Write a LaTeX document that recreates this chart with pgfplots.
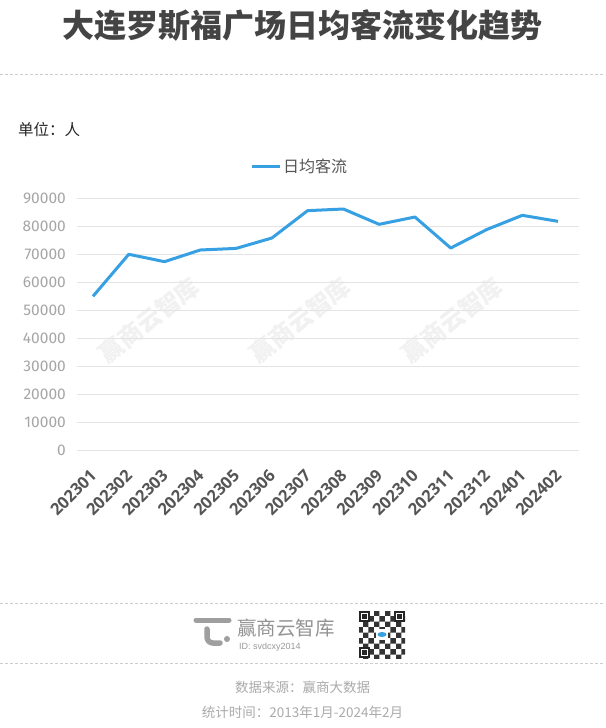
\documentclass[border=0pt]{standalone}
\usepackage{fontspec}
\setmainfont{Open Sans}
\newfontfamily\cjk{Noto Sans CJK SC}
\newfontfamily\numfont{Fira Sans}
\newfontfamily\idfont{Liberation Sans}
\usepackage{pgfplots}
\pgfplotsset{compat=1.18}
\usetikzlibrary{patterns}
\definecolor{linecol}{RGB}{54,160,226}
\definecolor{gridcol}{RGB}{228,228,228}
\definecolor{ytickcol}{RGB}{166,166,166}
\definecolor{xtickcol}{RGB}{85,85,85}
\definecolor{titlecol}{RGB}{68,68,68}
\definecolor{dashcol}{RGB}{204,204,204}
\definecolor{footcol}{RGB}{170,170,170}
\definecolor{wmcol}{RGB}{241,241,241}
\begin{document}
\begin{tikzpicture}[x=1pt,y=1pt]
\path[use as bounding box] (0,0) rectangle (605,-728);
\fill[white] (0,0) rectangle (605,-728);
% title
\node[anchor=base, text=titlecol, inner sep=0pt, font=\cjk\bfseries\fontsize{32}{36}\selectfont] at (302.5,-37) {大连罗斯福广场日均客流变化趋势};
\draw[dashcol, line width=0.8pt, dash pattern=on 3pt off 2pt] (0,-74) -- (605,-74);
% unit
\node[anchor=base west, inner sep=0pt, text=black!85, font=\cjk\fontsize{15.5}{18}\selectfont] at (18,-135) {单位：人};
% watermarks
\foreach \cx in {149,300,452}{
  \node[rotate=38, text=wmcol, font=\cjk\bfseries\fontsize{24}{28}\selectfont] at (\cx,-320) {赢商云智库};
}
\begin{axis}[
  at={(77pt,-450pt)}, anchor=south west,
  scale only axis, width=502pt, height=252pt,
  xmin=-0.447, xmax=13.587,
  ymin=0, ymax=90000,
  ytick={0,10000,20000,30000,40000,50000,60000,70000,80000,90000},
  xtick={0,1,2,3,4,5,6,7,8,9,10,11,12,13},
  xticklabels={202301,202302,202303,202304,202305,202306,202307,202308,202309,202310,202311,202312,202401,202402},
  ymajorgrids, grid style={draw=gridcol, line width=0.9pt},
  axis line style={draw=none},
  major tick length=0pt,
  scaled y ticks=false,
  /pgf/number format/assume math mode=true,
  /pgf/number format/1000 sep={},
  yticklabel style={anchor=east, inner sep=0pt, xshift=-11pt, text=ytickcol, font=\numfont\fontsize{15.5}{18}\selectfont},
  xticklabel style={xshift=-4pt, yshift=-18pt, rotate=45, anchor=north east, inner sep=0pt, text=xtickcol, font=\bfseries\fontsize{16.5}{18}\selectfont},
  clip=false,
  legend style={at={(0.3446,1.127)}, anchor=west, draw=none, fill=none, inner sep=0pt,
    font=\cjk\fontsize{16}{18}\selectfont, text=xtickcol,
    /tikz/every even column/.append style={column sep=0pt}},
  legend image code/.code={\draw[line width=3pt, linecol] (0pt,0pt) -- (28pt,0pt);},
  legend cell align=left,
]
\addplot[linecol, line width=3pt, line join=round] coordinates {
(0,54900) (1,69900) (2,67260) (3,71430) (4,72000) (5,75700) (6,85480)
(7,86070) (8,80600) (9,83210) (10,72140) (11,78690) (12,83810) (13,81670)
};
\addlegendentry{日均客流}
\end{axis}
% footer
\draw[dashcol, line width=0.8pt, dash pattern=on 3pt off 2pt] (0,-603) -- (605,-603);
\draw[dashcol, line width=0.8pt, dash pattern=on 3pt off 2pt] (0,-663) -- (605,-663);
% logo icon
\draw[gray!75, line width=5pt, line cap=round] (196,-620) -- (229,-620);
\draw[gray!75, line width=5.5pt, line cap=round] (207,-629) -- (207,-637) arc[start angle=180, end angle=270, radius=6] -- (220,-643);
\fill[gray!75] (227,-639) circle (3);
\node[anchor=west, inner sep=0pt, text=gray!85, font=\cjk\fontsize{19.5}{22}\selectfont] at (237,-628) {赢商云智库};
\node[anchor=west, inner sep=0pt, text=gray!80, font=\idfont\fontsize{9}{10}\selectfont] at (239,-647) {ID: svdcxy2014};
% QR code
\fill[pattern=checkerboard, pattern color=black!80] (359,-611) rectangle (405,-658);
\foreach \qx/\qy in {359/-611, 394/-611, 359/-647}{
  \fill[black!85] (\qx,\qy) rectangle ++(11,-11);
  \fill[white] (\qx+1.6,\qy-1.6) rectangle ++(7.8,-7.8);
  \fill[black!85] (\qx+3.2,\qy-3.2) rectangle ++(4.6,-4.6);
}
\fill[white] (376,-629) rectangle (388,-640);
\fill[linecol] (382,-634.5) ellipse (4.5 and 2.5);
% sources
\node[anchor=base, inner sep=0pt, text=footcol, font=\cjk\fontsize{13.5}{16}\selectfont] at (302.5,-692.5) {数据来源：赢商大数据};
\node[anchor=base, inner sep=0pt, text=footcol, font=\cjk\fontsize{13.5}{16}\selectfont] at (302.5,-717.5) {统计时间：2013年1月-2024年2月};
\end{tikzpicture}
\end{document}
